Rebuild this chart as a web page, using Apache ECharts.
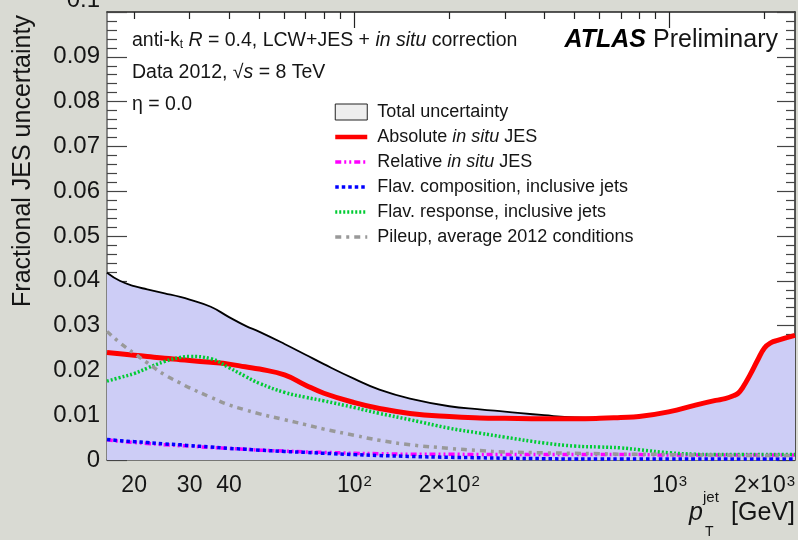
<!DOCTYPE html>
<html><head><meta charset="utf-8">
<script src="https://cdn.jsdelivr.net/npm/echarts@6/dist/echarts.min.js"></script>
<style>html,body{margin:0;padding:0;background:#d9dad3;}#c{width:798px;height:540px;}</style>
</head><body><div id="c"></div><script>
// jet pT sample points [GeV]
const ptGeV = [16.4, 18, 20, 22, 25, 28, 30, 35, 40, 45, 50, 60, 70, 80, 100, 120, 150, 200, 250, 300, 400, 500, 600, 700, 800, 1000, 1200, 1400, 1500, 1600, 1650, 1700, 1800, 1900, 2000, 2100, 2200, 2500];
const totalUnc = [0.0418, 0.0400, 0.0388, 0.0381, 0.0372, 0.0364, 0.0358, 0.0342, 0.0319, 0.0300, 0.0286, 0.0259, 0.0235, 0.0214, 0.0181, 0.0157, 0.0137, 0.0120, 0.0113, 0.0108, 0.0100, 0.0095, 0.0094, 0.0096, 0.0098, 0.0109, 0.0123, 0.0134, 0.0138, 0.0145, 0.0150, 0.0161, 0.0191, 0.0223, 0.0251, 0.0263, 0.0268, 0.0279];
const absInSitu = [0.0240, 0.0237, 0.0234, 0.0231, 0.0227, 0.0224, 0.0222, 0.0218, 0.0214, 0.0208, 0.0203, 0.0190, 0.0167, 0.0149, 0.0128, 0.0115, 0.0104, 0.0097, 0.0094, 0.0093, 0.0092, 0.0092, 0.0093, 0.0095, 0.0097, 0.0108, 0.0122, 0.0133, 0.0137, 0.0144, 0.0149, 0.0160, 0.0190, 0.0222, 0.0250, 0.0262, 0.0267, 0.0278];
const relInSitu = [0.0045, 0.0042, 0.0039, 0.0037, 0.0034, 0.0032, 0.0031, 0.0028, 0.0026, 0.0024, 0.0022, 0.0020, 0.0018, 0.0017, 0.0015, 0.0014, 0.0013, 0.0013, 0.0012, 0.0012, 0.0012, 0.0012, 0.0012, 0.0012, 0.0012, 0.0011, 0.0011, 0.0011, 0.0011, 0.0011, 0.0011, 0.0011, 0.0011, 0.0011, 0.0011, 0.0011, 0.0011, 0.0011];
const flavComp = [0.0046, 0.0043, 0.0041, 0.0039, 0.0036, 0.0034, 0.0032, 0.0029, 0.0026, 0.0024, 0.0022, 0.0019, 0.0017, 0.0015, 0.0012, 0.0010, 0.0008, 0.0006, 0.0005, 0.0004, 0.0003, 0.0002, 0.0002, 0.0002, 0.0002, 0.0002, 0.0002, 0.0002, 0.0002, 0.0002, 0.0002, 0.0002, 0.0002, 0.0002, 0.0002, 0.0002, 0.0002, 0.0002];
const flavResp = [0.0176, 0.0184, 0.0193, 0.0205, 0.0220, 0.0229, 0.0231, 0.0226, 0.0206, 0.0187, 0.0171, 0.0151, 0.0140, 0.0132, 0.0117, 0.0104, 0.0090, 0.0071, 0.0060, 0.0051, 0.0038, 0.0031, 0.0029, 0.0027, 0.0023, 0.0016, 0.0013, 0.0012, 0.0012, 0.0012, 0.0012, 0.0012, 0.0012, 0.0012, 0.0012, 0.0012, 0.0012, 0.0012];
const pileup = [0.0287, 0.0262, 0.0238, 0.0217, 0.0190, 0.0172, 0.0161, 0.0140, 0.0123, 0.0112, 0.0103, 0.0090, 0.0079, 0.0069, 0.0055, 0.0044, 0.0034, 0.0026, 0.0021, 0.0018, 0.0016, 0.0015, 0.0014, 0.0013, 0.0013, 0.0012, 0.0011, 0.0011, 0.0011, 0.0010, 0.0010, 0.0010, 0.0010, 0.0010, 0.0010, 0.0010, 0.0010, 0.0010];

const seriesNames = ['Total uncertainty', 'Absolute in situ JES', 'Relative in situ JES', 'Flav. composition, inclusive jets', 'Flav. response, inclusive jets', 'Pileup, average 2012 conditions'];

const xTickLabels = [20, 30, 40, 100, 200, 1000, 2000];
const xMajorTicks = [100, 1000];
const xMinorTicks = [20, 30, 40, 50, 60, 70, 80, 90, 200, 300, 400, 500, 600, 700, 800, 900, 2000];

const pairs = arr => ptGeV.map((p, i) => [p, arr[i]]);
function fmtX(v) {
  v = Math.round(v);
  const e = Math.floor(Math.log10(v) + 1e-9);
  if (e < 2) return String(v);
  const m = Math.round(v / Math.pow(10, e));
  return (m === 1 ? '' : m + '×') + '10{sup|' + e + '}';
}
const FONT = 'Liberation Sans, Arial, Helvetica, sans-serif';
const INK = '#151515';
const SMOOTH = 0.45;

const chart = echarts.init(document.getElementById('c'), null, {renderer: 'canvas'});
const baseLine = (name, arr, color, width, dash) => ({
  name, type: 'line', data: pairs(arr), smooth: SMOOTH, symbol: 'none',
  lineStyle: {color, width, type: dash, cap: 'butt', join: 'round'}, itemStyle: {color}
});
const lineLegend = (name, w) => ({name, itemStyle: {opacity: 0}, lineStyle: {width: w}});
const option = {
  animation: false,
  textStyle: {fontFamily: FONT},
  grid: {left: 107, right: 3, top: 12, bottom: 80, show: true, backgroundColor: '#ffffff', borderWidth: 0,
         outerBoundsMode: 'none', containLabel: false},
  xAxis: [
    {type: 'log', logBase: 10, min: 16.4, max: 2500, position: 'bottom',
     axisLine: {show: true, onZero: false, lineStyle: {color: '#555', width: 1.5}},
     axisTick: {show: false}, splitLine: {show: false}, minorTick: {show: false},
     axisLabel: {customValues: xTickLabels, formatter: fmtX, fontSize: 23, color: INK, margin: 14, fontFamily: FONT,
       rich: {sup: {fontSize: 15, verticalAlign: 'top', fontFamily: FONT, color: INK, padding: [0, 0, 0, 1]}}}},
    {type: 'log', logBase: 10, min: 16.4, max: 2500, position: 'top',
     axisLine: {show: true, onZero: false, lineStyle: {color: '#222', width: 1.5}},
     axisTick: {show: true, inside: true, length: 16, customValues: xMajorTicks, lineStyle: {color: '#222', width: 1.2}},
     axisLabel: {show: false}, splitLine: {show: false}},
    {type: 'log', logBase: 10, min: 16.4, max: 2500, position: 'top',
     axisLine: {show: false, onZero: false},
     axisTick: {show: true, inside: true, length: 7, customValues: xMinorTicks, lineStyle: {color: '#222', width: 1.2}},
     axisLabel: {show: false}, splitLine: {show: false}}
  ],
  yAxis: [
    {type: 'value', min: 0, max: 0.1, interval: 0.01, position: 'left',
     axisLine: {show: true, onZero: false, lineStyle: {color: '#666', width: 1.5}},
     axisTick: {show: true, inside: true, length: 20, lineStyle: {color: '#444', width: 1.2}},
     minorTick: {show: true, splitNumber: 5, length: 10, lineStyle: {color: '#444', width: 1.2}},
     splitLine: {show: false},
     axisLabel: {fontSize: 24, color: INK, margin: 7, fontFamily: FONT, showMaxLabel: true,
       formatter: v => (Math.abs(v - 0.1) < 1e-9 ? '{top|0.1}' : (v === 0 ? '0' : v.toFixed(2))),
       rich: {top: {fontSize: 24, fontFamily: FONT, color: INK, padding: [0, 0, 24, 0]}}}},
    {type: 'value', min: 0, max: 0.1, interval: 0.01, position: 'right',
     axisLine: {show: true, onZero: false, lineStyle: {color: '#222', width: 1.5}},
     axisTick: {show: true, inside: true, length: 18, lineStyle: {color: '#444', width: 1.2}},
     minorTick: {show: true, splitNumber: 5, length: 9, lineStyle: {color: '#444', width: 1.2}},
     splitLine: {show: false}, axisLabel: {show: false}}
  ],
  legend: {
    orient: 'vertical', left: 328, top: 98, itemWidth: 32, itemHeight: 16, itemGap: 7,
    textStyle: {fontSize: 18, color: INK, fontFamily: FONT, padding: [0, 0, 0, 5],
      rich: {i: {fontSize: 18, fontStyle: 'italic', fontFamily: FONT, color: INK}}},
    formatter: n => n.replace('in situ', '{i|in situ}'),
    data: [
      {name: seriesNames[0], icon: 'rect', itemStyle: {color: '#eeeeee', borderColor: '#222', borderWidth: 1}},
      lineLegend(seriesNames[1], 4.5), lineLegend(seriesNames[2], 3.5), lineLegend(seriesNames[3], 3.5),
      lineLegend(seriesNames[4], 3.5), lineLegend(seriesNames[5], 3.5)
    ]
  },
  series: [
    {name: seriesNames[0], type: 'line', data: pairs(totalUnc), smooth: SMOOTH, symbol: 'none',
     lineStyle: {color: '#000', width: 1.8, join: 'round'}, itemStyle: {color: '#eeeeee'},
     areaStyle: {color: '#cdcdf6', opacity: 1}},
    baseLine(seriesNames[1], absInSitu, '#ff0000', 5, 'solid'),
    baseLine(seriesNames[2], relInSitu, '#ff00ff', 3.5, [6, 3, 2, 3, 2, 3]),
    baseLine(seriesNames[3], flavComp, '#0000ff', 3.5, [3.5, 3]),
    baseLine(seriesNames[4], flavResp, '#00cc33', 3.5, [2, 2]),
    baseLine(seriesNames[5], pileup, '#999999', 3.5, [6, 5, 3, 5])
  ],
  graphic: [
    {type: 'text', left: 132, top: 31, style: {text: 'anti-k{sub|t} {i|R} = 0.4, LCW+JES + {i|in situ} correction', font: '19.5px ' + FONT, fill: INK,
      rich: {sub: {fontSize: 12, verticalAlign: 'bottom', fontFamily: FONT, fill: INK}, i: {fontStyle: 'italic', fontSize: 19.5, fontFamily: FONT, fill: INK}}}},
    {type: 'text', left: 132, top: 63, style: {text: 'Data 2012, √{i|s} = 8 TeV', font: '19.5px ' + FONT, fill: INK,
      rich: {i: {fontStyle: 'italic', fontSize: 19.5, fontFamily: FONT, fill: INK}}}},
    {type: 'text', left: 132, top: 95, style: {text: 'η = 0.0', font: '19.5px ' + FONT, fill: INK}},
    {type: 'text', right: 20, top: 28, style: {text: '{b|ATLAS} Preliminary', font: '25px ' + FONT, fill: INK,
      rich: {b: {fontStyle: 'italic', fontWeight: 'bold', fontSize: 25, fontFamily: FONT, fill: '#000'}}}},
    {type: 'text', x: 23, y: 161, rotation: Math.PI / 2, style: {text: 'Fractional JES uncertainty', font: '25px ' + FONT, fill: INK, align: 'center', verticalAlign: 'middle'}},
    {type: 'text', x: 689, y: 513, style: {text: 'p', font: 'italic 25px ' + FONT, fill: INK, verticalAlign: 'middle'}},
    {type: 'text', x: 703, y: 498, style: {text: 'jet', font: '15px ' + FONT, fill: INK, verticalAlign: 'middle'}},
    {type: 'text', x: 705, y: 532, style: {text: 'T', font: '14px ' + FONT, fill: INK, verticalAlign: 'middle'}},
    {type: 'text', x: 795, y: 513, style: {text: '[GeV]', font: '25px ' + FONT, fill: INK, align: 'right', verticalAlign: 'middle'}}
  ]
};
chart.setOption(option);
</script></body></html>
